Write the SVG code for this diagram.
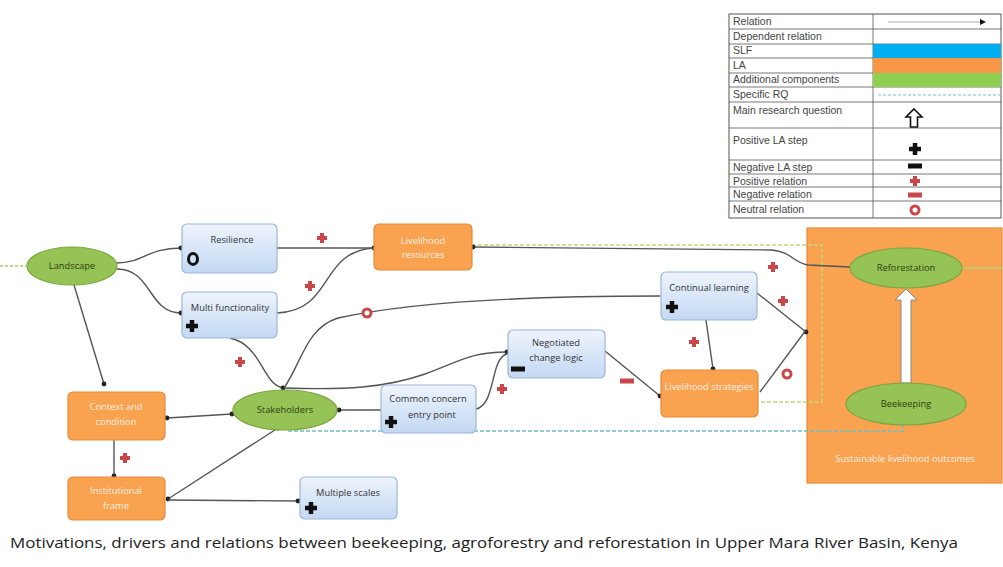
<svg xmlns="http://www.w3.org/2000/svg" width="1003" height="567" viewBox="0 0 1003 567">
<defs>
<style>
.lg{font-family:"Liberation Sans",Arial,sans-serif;font-size:10.5px;fill:#444}
.bt{font-family:"Open Sans","Liberation Sans",sans-serif;font-size:9.3px;fill:#333;text-anchor:middle}
.ot{font-family:"Open Sans","Liberation Sans",sans-serif;font-size:9.3px;fill:#fff;text-anchor:middle;opacity:.85}
.gt{font-family:"Open Sans","Liberation Sans",sans-serif;font-size:9.3px;fill:#2d3d12;text-anchor:middle}
.blue{fill:url(#bg);stroke:#9db6da;stroke-width:1.2}
.orange{fill:#f9a24f;stroke:#e8893b;stroke-width:1.2}
.green{fill:#95c355;stroke:#7ea544;stroke-width:1.2}
.cn{fill:none;stroke:#555;stroke-width:1.4}
.cell{fill:none;stroke:#555;stroke-width:0.8}
</style>
<linearGradient id="bg" x1="0" y1="0" x2="0" y2="1"><stop offset="0" stop-color="#eef4fc"/><stop offset="1" stop-color="#c3d8f3"/></linearGradient>
<marker id="dot" viewBox="0 0 6 6" refX="3" refY="3" markerWidth="6" markerHeight="6" markerUnits="userSpaceOnUse"><circle cx="3" cy="3" r="2.4" fill="#222"/></marker>
<g id="rplus"><path d="M-5,0H5M0,-5V5" stroke="#c9474b" stroke-width="4"/></g>
<g id="rmin"><rect x="-7" y="-2.5" width="14" height="5" fill="#c9474b"/></g>
<g id="rzero"><circle r="4" fill="#fff" stroke="#c9474b" stroke-width="3"/></g>
<g id="bplus"><path d="M-6,0H6M0,-6V6" stroke="#111" stroke-width="4.5"/></g>
<g id="bmin"><rect x="-7" y="-2.5" width="14" height="5" fill="#111"/></g>
</defs>
<rect width="1003" height="567" fill="#fff"/>

<g id="legend">
<rect x="729" y="14" width="272" height="204" fill="#fff" stroke="#555" stroke-width="1"/>
<line class="cell" x1="873" y1="14" x2="873" y2="218"/>
<g class="cell">
<line x1="729" y1="29" x2="1001" y2="29"/><line x1="729" y1="44" x2="1001" y2="44"/><line x1="729" y1="58" x2="1001" y2="58"/><line x1="729" y1="73" x2="1001" y2="73"/><line x1="729" y1="87" x2="1001" y2="87"/><line x1="729" y1="102" x2="1001" y2="102"/><line x1="729" y1="128" x2="1001" y2="128"/><line x1="729" y1="160" x2="1001" y2="160"/><line x1="729" y1="174" x2="1001" y2="174"/><line x1="729" y1="187" x2="1001" y2="187"/><line x1="729" y1="201" x2="1001" y2="201"/>
</g>
<rect x="873" y="44" width="128" height="14" fill="#00aeef"/>
<rect x="873" y="58" width="128" height="15" fill="#f79646"/>
<rect x="873" y="73" width="128" height="14" fill="#8fd053"/>
<line x1="888" y1="22" x2="982" y2="22" stroke="#aaa" stroke-width="1"/>
<path d="M980,19 L986,22 L980,25 Z" fill="#111"/>
<line x1="878" y1="95" x2="1000" y2="95" stroke="#7fc3cf" stroke-width="1.2" stroke-dasharray="3,2"/>
<path d="M914,109 L922,117 L917.5,117 L917.5,127 L910.5,127 L910.5,117 L906,117 Z" fill="#fff" stroke="#111" stroke-width="1.6"/>
<use href="#bplus" x="915" y="149"/>
<use href="#bmin" x="915" y="166"/>
<use href="#rplus" x="915" y="181"/>
<use href="#rmin" x="915" y="195"/>
<use href="#rzero" x="915" y="210"/>
<text class="lg" x="733" y="25">Relation</text>
<text class="lg" x="733" y="40">Dependent relation</text>
<text class="lg" x="733" y="54">SLF</text>
<text class="lg" x="733" y="69">LA</text>
<text class="lg" x="733" y="83">Additional components</text>
<text class="lg" x="733" y="98">Specific RQ</text>
<text class="lg" x="733" y="114">Main research question</text>
<text class="lg" x="733" y="144">Positive LA step</text>
<text class="lg" x="733" y="171">Negative LA step</text>
<text class="lg" x="733" y="185">Positive relation</text>
<text class="lg" x="733" y="198">Negative relation</text>
<text class="lg" x="733" y="213">Neutral relation</text>
</g>

<g id="slo">
<rect x="807" y="228" width="195" height="255" fill="#f9a24f" stroke="#e8893b" stroke-width="1.2"/>
<text class="ot" x="905" y="462">Sustainable livelihood outcomes</text>
</g>

<g id="connectors">
<path d="M0,266 L27,266" fill="none" stroke="#a6c96a" stroke-width="1.4" stroke-dasharray="3,2"/>
<path d="M472,245 L822,245 L822,402 L760,402" fill="none" stroke="#c6d77f" stroke-width="1.4" stroke-dasharray="4,2"/>
<path d="M962,268 L1003,268" fill="none" stroke="#b6d27a" stroke-width="1.4"/>
<path d="M288,431 L903,431 L903,425" fill="none" stroke="#6fbfc8" stroke-width="1.6" stroke-dasharray="4,2"/>
<path class="cn" d="M117,263 C142,263 148,248 181,248" marker-end="url(#dot)"/>
<path class="cn" d="M117,269 C152,269 148,313 181,313" marker-end="url(#dot)"/>
<path class="cn" d="M277,248 L374,248" marker-end="url(#dot)"/>
<path class="cn" d="M277,313 C335,310 318,252 374,248"/>
<path class="cn" d="M74,285 L104,384" marker-end="url(#dot)"/>
<path class="cn" d="M114,440 L114,476" marker-end="url(#dot)"/>
<path class="cn" d="M167,418 L232,414" marker-start="url(#dot)" marker-end="url(#dot)"/>
<path class="cn" d="M278,428 L168,499" marker-start="url(#dot)" marker-end="url(#dot)"/>
<path class="cn" d="M168,500 L298,501" marker-end="url(#dot)"/>
<path class="cn" d="M230,338 C262,345 262,384 283,388" marker-end="url(#dot)"/>
<path class="cn" d="M660,296 C560,296 420,300 338,318 C306,328 302,362 284,388"/>
<path class="cn" d="M285,388 C345,390 385,388 425,374 C462,360 472,352 507,352" marker-end="url(#dot)"/>
<path class="cn" d="M381,410 L339,410" marker-end="url(#dot)"/>
<path class="cn" d="M476,409 C496,405 490,358 507,354"/>
<path class="cn" d="M605,351 L660,396" marker-end="url(#dot)"/>
<path class="cn" d="M706,320 L713,369" marker-end="url(#dot)"/>
<path class="cn" d="M757,293 L806,332" marker-end="url(#dot)"/>
<path class="cn" d="M760,392 L806,330"/>
<path class="cn" d="M850,267 L808,265 C792,262 792,252 772,250 L473,247" marker-end="url(#dot)"/>
<path d="M901,383 L901,300 L895,300 L906,289 L917,300 L911,300 L911,383 Z" fill="#fff" stroke="#888" stroke-width="1"/>
</g>

<g id="relations">
<use href="#rplus" x="322" y="238"/>
<use href="#rplus" x="310" y="286"/>
<use href="#rzero" x="367" y="313"/>
<use href="#rplus" x="240" y="362"/>
<use href="#rplus" x="125" y="458"/>
<use href="#rplus" x="502" y="389"/>
<use href="#rmin" x="627" y="381"/>
<use href="#rplus" x="694" y="342"/>
<use href="#rplus" x="773" y="267"/>
<use href="#rplus" x="783" y="301"/>
<use href="#rzero" x="787" y="374"/>
</g>

<g id="landscape">
<ellipse class="green" cx="72" cy="266" rx="45" ry="19"/>
<text class="gt" x="72" y="269">Landscape</text>
</g>
<g id="resilience">
<rect class="blue" x="182" y="224" width="95" height="49" rx="5"/>
<text class="bt" x="232" y="243">Resilience</text>
<ellipse cx="193" cy="259" rx="4.5" ry="5.5" fill="none" stroke="#111" stroke-width="3"/>
</g>
<g id="multifunctionality">
<rect class="blue" x="182" y="292" width="95" height="46" rx="5"/>
<text class="bt" x="230" y="311">Multi functionality</text>
<use href="#bplus" x="192" y="326"/>
</g>
<g id="livelihood-resources">
<rect class="orange" x="374" y="224" width="98" height="46" rx="5"/>
<text class="ot" x="423" y="244">Livelihood</text>
<text class="ot" x="423" y="258">resources</text>
</g>
<g id="context">
<rect class="orange" x="68" y="392" width="97" height="48" rx="5"/>
<text class="ot" x="116" y="410">Context and</text>
<text class="ot" x="116" y="425">condition</text>
</g>
<g id="institutional">
<rect class="orange" x="68" y="477" width="97" height="43" rx="5"/>
<text class="ot" x="116" y="494">Institutional</text>
<text class="ot" x="116" y="509">frame</text>
</g>
<g id="stakeholders">
<ellipse class="green" cx="285" cy="410" rx="52" ry="20"/>
<text class="gt" x="285" y="413">Stakeholders</text>
</g>
<g id="multiple-scales">
<rect class="blue" x="300" y="477" width="97" height="42" rx="5"/>
<text class="bt" x="348" y="496">Multiple scales</text>
<use href="#bplus" x="311" y="508"/>
</g>
<g id="common-concern">
<rect class="blue" x="381" y="385" width="95" height="48" rx="5"/>
<text class="bt" x="428" y="402">Common concern</text>
<text class="bt" x="432" y="418">entry point</text>
<use href="#bplus" x="391" y="422"/>
</g>
<g id="negotiated">
<rect class="blue" x="508" y="330" width="97" height="48" rx="5"/>
<text class="bt" x="556" y="346">Negotiated</text>
<text class="bt" x="556" y="361">change logic</text>
<use href="#bmin" x="518" y="369"/>
</g>
<g id="continual-learning">
<rect class="blue" x="661" y="272" width="96" height="48" rx="5"/>
<text class="bt" x="709" y="291">Continual learning</text>
<use href="#bplus" x="672" y="307"/>
</g>
<g id="livelihood-strategies">
<rect class="orange" x="661" y="370" width="97" height="47" rx="5"/>
<text class="ot" x="709" y="390">Livelihood strategies</text>
</g>
<g id="reforestation">
<ellipse class="green" cx="906" cy="268" rx="56" ry="20"/>
<text class="gt" x="906" y="271">Reforestation</text>
</g>
<g id="beekeeping">
<ellipse class="green" cx="906" cy="404" rx="60" ry="21"/>
<text class="gt" x="906" y="407">Beekeeping</text>
</g>

<text x="10" y="548" font-family="'Open Sans','Liberation Sans',sans-serif" font-size="14" fill="#222" textLength="948" lengthAdjust="spacingAndGlyphs">Motivations, drivers and relations between beekeeping, agroforestry and reforestation in Upper Mara River Basin, Kenya</text>
</svg>
